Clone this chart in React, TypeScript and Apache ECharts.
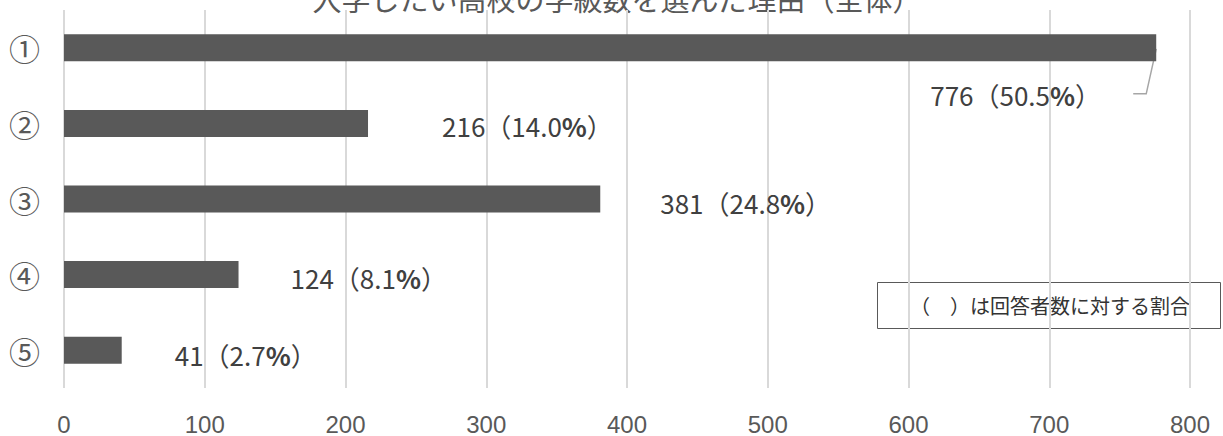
import React, { useEffect, useRef } from "react";
import * as echarts from "echarts";

const categories = ["①", "②", "③", "④", "⑤"];
const counts = [776, 216, 381, 124, 41];
const percents = [50.5, 14.0, 24.8, 8.1, 2.7];
const xTicks = { min: 0, max: 800, interval: 100 };
const titleText = "入学したい高校の学級数を選んだ理由（全体）";
const noteText = "（　）は回答者数に対する割合";

// label offsets (layout only)
const labelOffsets: [number, number][] = [
  [-231, 47],
  [69, 2],
  [55, 3],
  [47, 3],
  [48, 4],
];

const FONT = "'Noto Sans CJK JP', 'Noto Sans', sans-serif";

export default function App() {
  const ref = useRef<HTMLDivElement>(null);
  useEffect(() => {
    if (!ref.current) return;
    const chart = echarts.init(ref.current, null, { renderer: "svg" });
    const option: any = {
      animation: false,
      backgroundColor: "#ffffff",
      grid: { left: 64, right: 33, top: 10, bottom: 48, containLabel: false },
      xAxis: {
        type: "value",
        min: xTicks.min,
        max: xTicks.max,
        interval: xTicks.interval,
        axisLine: { show: false },
        axisTick: { show: false },
        splitLine: { show: true, lineStyle: { color: "#d9d9d9", width: 2 } },
        axisLabel: { color: "#595959", fontSize: 24, margin: 24, fontFamily: "'Liberation Sans Narrow', 'Liberation Sans', sans-serif" },
      },
      yAxis: {
        type: "category",
        inverse: true,
        data: categories,
        axisLine: { show: false },
        axisTick: { show: false },
        splitLine: { show: false },
        axisLabel: { color: "#595959", fontSize: 31, margin: 24, fontFamily: FONT },
      },
      series: [
        {
          type: "bar",
          barWidth: 27,
          itemStyle: { color: "#595959" },
          data: counts.map((v, i) => ({
            value: v,
            label: {
              show: true,
              position: "right",
              offset: labelOffsets[i],
            },
          })),
          label: {
            show: true,
            position: "right",
            color: "#404040",
            fontSize: 26,
            fontFamily: FONT,
            formatter: (p: any) =>
              `${counts[p.dataIndex]}（${percents[p.dataIndex].toFixed(1)}{b|%}）`,
            rich: {
              b: { fontSize: 26, fontWeight: "bold", color: "#404040", fontFamily: FONT },
            },
          },
        },
      ],
      graphic: [
        {
          type: "text",
          x: 617,
          y: -2,
          style: {
            text: titleText,
            fill: "#595959",
            fontSize: 29,
            fontFamily: FONT,
            textAlign: "center",
            textVerticalAlign: "middle",
          },
        },
        {
          type: "rect",
          shape: { x: 877.5, y: 282.5, width: 343, height: 46 },
          style: { fill: "#ffffff", stroke: "#595959", lineWidth: 1 },
        },
        {
          type: "text",
          x: 1050,
          y: 305,
          style: {
            text: noteText,
            fill: "#333333",
            fontSize: 20,
            fontFamily: FONT,
            textAlign: "center",
            textVerticalAlign: "middle",
          },
        },
      ],
    };
    chart.setOption(option);
    // leader line for the first label, computed from the axis scale
    const end = chart.convertToPixel({ gridIndex: 0 }, [counts[0], 0]) as number[];
    if (end) {
      const x = end[0];
      const y = end[1];
      chart.setOption({
        graphic: [
          ...option.graphic,
          {
            type: "polyline",
            shape: { points: [[x, y + 1], [x - 10, y + 46], [x - 23, y + 46]] },
            style: { stroke: "#a6a6a6", lineWidth: 1.5, fill: "none" },
          },
        ],
      });
    }
    return () => chart.dispose();
  }, []);
  return (
    <div
      ref={ref}
      style={{ position: "fixed", left: 0, top: 0, width: 1223, height: 436 }}
    />
  );
}
